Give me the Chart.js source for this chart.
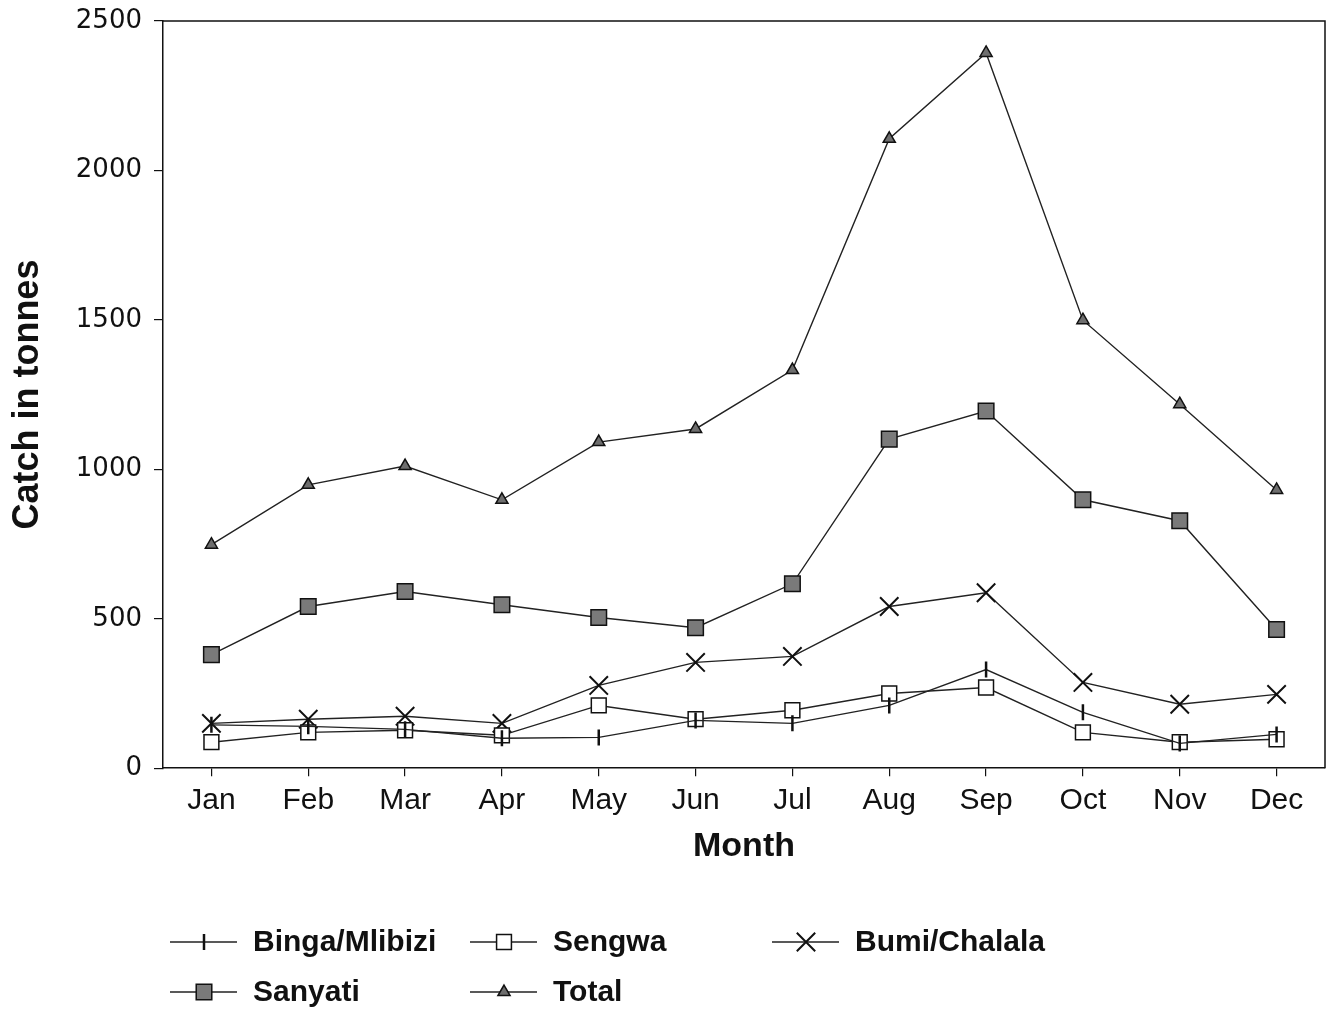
<!DOCTYPE html>
<html>
<head>
<meta charset="utf-8">
<script src="https://cdn.jsdelivr.net/npm/chart.js@4/dist/chart.umd.min.js"></script>
<style>
  html, body { margin: 0; padding: 0; background: #fff; overflow: hidden; }
  #wrap { width: 1331px; height: 1010px; position: relative; }
</style>
</head>
<body>
<div id="wrap"><canvas id="catchChart"></canvas></div>
<script>
// monthly catch, tonnes
const months = ["Jan", "Feb", "Mar", "Apr", "May", "Jun", "Jul", "Aug", "Sep", "Oct", "Nov", "Dec"];
const bingaMlibizi = [145, 140, 130, 100, 103, 160, 150, 210, 330, 187, 83, 113];
const sengwa       = [87, 120, 127, 110, 210, 164, 194, 250, 270, 120, 87, 97];
const bumiChalala  = [150, 164, 174, 150, 277, 354, 374, 541, 587, 287, 214, 247];
const sanyati      = [380, 541, 591, 547, 504, 470, 617, 1101, 1195, 898, 828, 464];
const total        = [748, 948, 1011, 898, 1091, 1135, 1332, 2106, 2393, 1499, 1218, 931];
const yTicks = [0, 500, 1000, 1500, 2000, 2500];

const FONT = "'Liberation Sans', Arial, Helvetica, sans-serif";

function series(label, data, style, radius, fill, rotation, bw) {
    return {
        label: label,
        data: data,
        borderColor: "#222",
        borderWidth: 1.4,
        tension: 0,
        pointStyle: style,
        pointRadius: radius,
        pointHoverRadius: radius,
        pointRotation: rotation || 0,
        pointBackgroundColor: fill,
        pointBorderColor: "#111",
        pointBorderWidth: bw || 1.5
    };
}

// box round the plot + legend laid out in a 3 column grid like the original
const framePlugin = {
    id: "frame",
    afterDraw(chart) {
        const ctx = chart.ctx;
        const a = chart.chartArea;
        ctx.save();
        ctx.strokeStyle = "#111";
        ctx.lineWidth = 1.5;
        ctx.beginPath();
        ctx.moveTo(a.left, a.top);
        ctx.lineTo(a.right, a.top);
        ctx.lineTo(a.right, a.bottom);
        ctx.stroke();

        const cols = [170, 470, 772];
        const rows = [942, 992];
        ctx.font = "bold 30px " + FONT;
        ctx.textBaseline = "middle";
        ctx.textAlign = "left";
        chart.data.datasets.forEach(function (ds, i) {
            let x = cols[i % 3];
            let y = rows[Math.floor(i / 3)];
            ctx.strokeStyle = "#222";
            ctx.lineWidth = 1.4;
            ctx.beginPath();
            ctx.moveTo(x, y);
            ctx.lineTo(x + 67, y);
            ctx.stroke();
            ctx.fillStyle = ds.pointBackgroundColor;
            ctx.strokeStyle = ds.pointBorderColor;
            ctx.lineWidth = ds.pointBorderWidth;
            Chart.helpers.drawPoint(ctx, {
                pointStyle: ds.pointStyle,
                rotation: ds.pointRotation,
                radius: ds.pointRadius,
                borderWidth: ds.pointBorderWidth
            }, x + 34, y);
            ctx.fillStyle = "#111";
            ctx.fillText(ds.label, x + 83, y + 1);
        });
        ctx.restore();
    }
};

new Chart(document.getElementById("catchChart"), {
    type: "line",
    data: {
        labels: months,
        datasets: [
            series("Binga/Mlibizi", bingaMlibizi, "line", 8, "#111", 90, 2.5),
            series("Sengwa", sengwa, "rect", 10.5, "#fff", 0, 1.5),
            series("Bumi/Chalala", bumiChalala, "crossRot", 13, "#111", 0, 2),
            series("Sanyati", sanyati, "rect", 11, "#7a7a7a", 0, 1.5),
            series("Total", total, "triangle", 7, "#6e6e6e", 0, 1.5)
        ]
    },
    options: {
        responsive: true,
        maintainAspectRatio: false,
        animation: false,
        layout: { autoPadding: false, padding: { left: 0, right: 6, top: 21, bottom: 139 } },
        plugins: {
            legend: { display: false },
            tooltip: { enabled: false }
        },
        scales: {
            x: {
                offset: true,
                afterFit: function (scale) { scale.paddingLeft = 0; scale.paddingRight = 0; },
                grid: { drawOnChartArea: false, drawTicks: true, tickLength: 8, color: "#111", lineWidth: 1.2 },
                border: { display: true, color: "#111", width: 1.5 },
                ticks: { color: "#111", font: { family: FONT, size: 30 }, padding: 7, maxRotation: 0, autoSkip: false },
                title: { display: true, text: "Month", color: "#111", font: { family: FONT, size: 34, weight: "bold" }, padding: { top: 0, bottom: 4 } }
            },
            y: {
                min: 0,
                max: 2500,
                afterBuildTicks: function (scale) {
                    scale.ticks = yTicks.map(v => ({ value: v }));
                },
                afterFit: function (scale) { scale.width = 163; scale.paddingTop = 0; scale.paddingBottom = 0; },
                grid: { drawOnChartArea: false, drawTicks: true, tickLength: 9, color: "#111", lineWidth: 1.2 },
                border: { display: true, color: "#111", width: 1.5 },
                ticks: {
                    color: "#111",
                    font: { family: "'DejaVu Sans', sans-serif", size: 26 },
                    padding: 12,
                    callback: function (v) { return String(v); }
                },
                title: { display: true, text: "Catch in tonnes", color: "#111", font: { family: FONT, size: 36, weight: "bold" }, padding: { top: 6, bottom: 4 } }
            }
        }
    },
    plugins: [framePlugin]
});
</script>
</body>
</html>
